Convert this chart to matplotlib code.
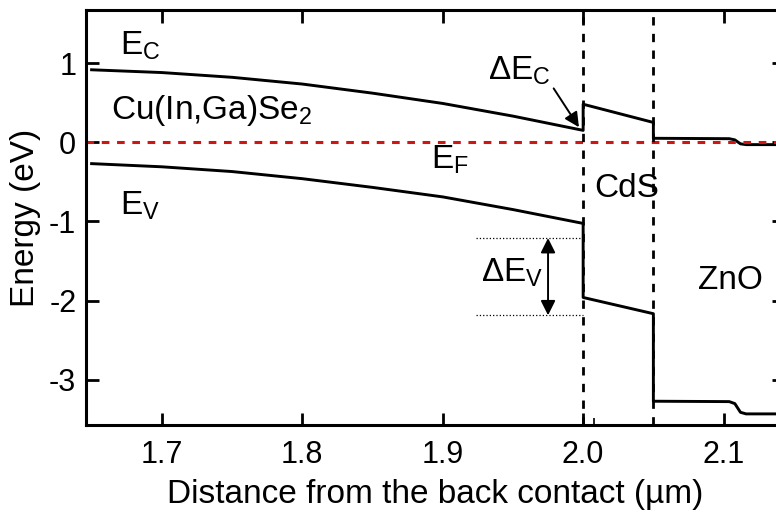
import numpy as np
import matplotlib
matplotlib.use("Agg")
import matplotlib.pyplot as plt

plt.rcParams['font.family'] = ['Liberation Sans', 'DejaVu Sans']
plt.rcParams['mathtext.fontset'] = 'custom'
plt.rcParams['mathtext.rm'] = 'Liberation Sans'
plt.rcParams['mathtext.it'] = 'Liberation Sans'

# band edges in Cu(In,Ga)Se2 (absorber)
x_cigs = [1.65, 1.70, 1.75, 1.80, 1.85, 1.90, 1.95, 2.00]
ec_cigs = [0.915, 0.88, 0.82, 0.735, 0.62, 0.49, 0.33, 0.15]
ev_cigs = [-0.27, -0.31, -0.37, -0.46, -0.57, -0.69, -0.85, -1.025]

# CdS buffer
x_cds = [2.00, 2.05]
ec_cds = [0.48, 0.25]
ev_cds = [-1.96, -2.165]

# ZnO window
x_zno = [2.05, 2.104, 2.108, 2.112, 2.116, 2.145]
ec_zno = [0.05, 0.045, 0.03, -0.02, -0.03, -0.03]
ev_zno = [-3.27, -3.275, -3.30, -3.41, -3.43, -3.43]

interfaces = [2.00, 2.05]
dEv_top, dEv_bot = -1.21, -2.185

x_ec = x_cigs + x_cds + x_zno
y_ec = ec_cigs + ec_cds + ec_zno
x_ev = x_cigs + x_cds + x_zno
y_ev = ev_cigs + ev_cds + ev_zno

fig = plt.figure(figsize=(7.76, 5.15), dpi=100)
ax = fig.add_axes([0.1108, 0.1748, 0.8995, 0.8058])

ax.plot(x_ec, y_ec, color='black', lw=2.1)
ax.plot(x_ev, y_ev, color='black', lw=2.1)
ax.axhline(0, color='#d01515', lw=2.2, ls=(0, (2.5, 2.5)))
for xi in interfaces:
    ax.axvline(xi, color='black', lw=2.0, ls=(0, (3, 3)))

# delta Ev marker
ax.plot([1.924, 2.0], [dEv_top, dEv_top], color='black', lw=0.9, ls=':')
ax.plot([1.924, 2.0], [dEv_bot, dEv_bot], color='black', lw=0.9, ls=':')
ax.annotate('', xy=(1.975, dEv_top), xytext=(1.975, dEv_bot),
            arrowprops=dict(arrowstyle='<|-|>', color='black', lw=1.4,
                            mutation_scale=22, shrinkA=0, shrinkB=0))
ax.annotate('', xy=(1.997, 0.19), xytext=(1.979, 0.68),
            arrowprops=dict(arrowstyle='-|>', color='black', lw=1.4,
                            mutation_scale=22, shrinkA=0, shrinkB=0))

fs = 24
ax.text(1.670, 1.22, r'E$_{\rm C}$', fontsize=fs, va='center')
ax.text(1.664, 0.40, r'Cu(In,Ga)Se$_2$', fontsize=fs, va='center')
ax.text(1.892, -0.22, r'E$_{\rm F}$', fontsize=fs, va='center')
ax.text(1.670, -0.80, r'E$_{\rm V}$', fontsize=fs, va='center')
ax.text(1.932, 0.90, r'ΔE$_{\rm C}$', fontsize=fs, va='center')
ax.text(1.927, -1.65, r'ΔE$_{\rm V}$', fontsize=fs, va='center')
ax.text(2.031, -0.58, 'CdS', fontsize=fs, va='center', ha='center')
ax.text(2.105, -1.75, 'ZnO', fontsize=fs, va='center', ha='center')

ax.set_xlim(1.646, 2.143)
ax.set_ylim(-3.57, 1.67)
ax.set_xticks([1.7, 1.8, 1.9, 2.0, 2.1])
ax.set_xticklabels(['1.7', '1.8', '1.9', '2.0', '2.1'])
ax.set_yticks([-3, -2, -1, 0, 1])
ax.set_yticklabels(['-3', '-2', '-1', '0', '1'])
ax.set_xticks([2.008], minor=True)
ax.tick_params(which='major', direction='in', length=9, width=2, top=True, right=True,
               labelsize=22)
ax.tick_params(axis='x', which='major', pad=11)
ax.tick_params(axis='y', which='major', pad=7)
ax.tick_params(which='minor', direction='in', length=5, width=1.2, top=False, right=False)
for s in ax.spines.values():
    s.set_linewidth(2.2)

ax.set_xlabel('Distance from the back contact (µm)', fontsize=fs, labelpad=6)
ax.set_ylabel('Energy (eV)', fontsize=fs, labelpad=6)

fig.savefig('out.png', dpi=100)
